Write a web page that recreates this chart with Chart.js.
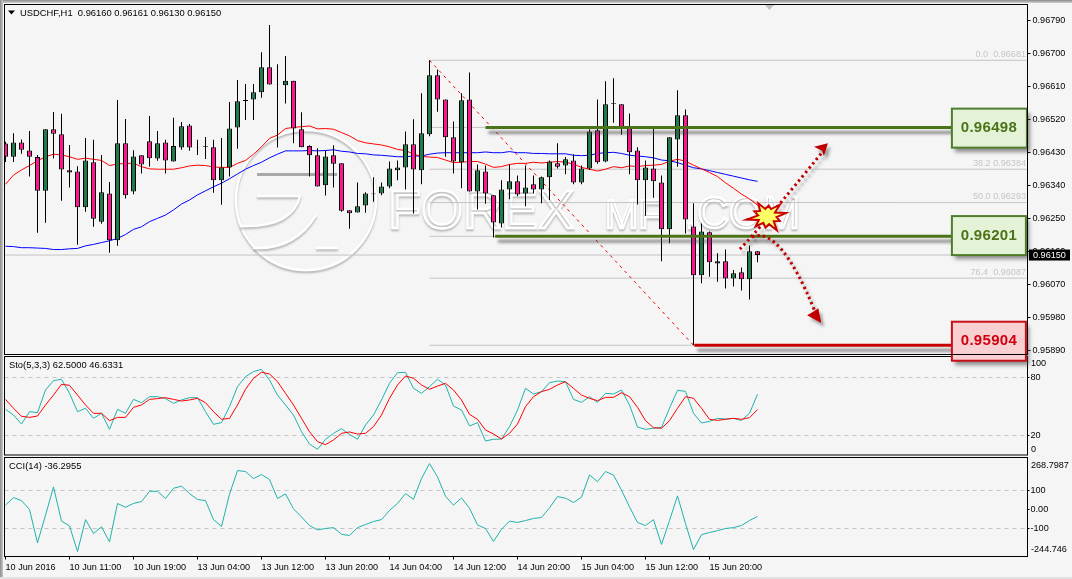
<!DOCTYPE html>
<html>
<head>
<meta charset="utf-8">
<title>USDCHF H1</title>
<script src="https://cdn.jsdelivr.net/npm/chart.js@4"></script>
<style>
  html, body { margin: 0; padding: 0; background: #f5f5f5; overflow: hidden; }
  #wrap { position: relative; width: 1072px; height: 579px; }
  #wrap canvas { position: absolute; left: 0; top: 0; }
  #topEdge { position: absolute; left: 0; top: 0; width: 1072px; height: 3px; background: linear-gradient(#8a8a8a, #d0d0d0); }
  #leftEdge { position: absolute; left: 0; top: 0; width: 3px; height: 579px; background: linear-gradient(90deg, #8c8c8c, #c8c8c8); }
  #bottomEdge { position: absolute; left: 0; top: 577px; width: 1072px; height: 2px; background: #e2e2e2; }
</style>
</head>
<body>
<div id="wrap">
  <canvas id="cci" width="1072" height="579" style="z-index:1"></canvas>
  <canvas id="sto" width="1072" height="579" style="z-index:2"></canvas>
  <canvas id="main" width="1072" height="579" style="z-index:3"></canvas>
  <div id="topEdge" style="z-index:4"></div>
  <div id="leftEdge" style="z-index:4"></div>
  <div id="bottomEdge" style="z-index:4"></div>
</div>
<script>
// prices are in points (0.96150 = 96150)
const opens = [96454,96418,96457,96435,96417,96325,96493,96479,96381,96378,96280,96403,96241,96318,96190,96455,96323,96422,96460,96413,96457,96405,96443,96503,96444,96447,96444,96354,96389,96498,96570,96574,96594,96662,96615,96613,96625,96493,96447,96422,96340,96422,96400,96272,96266,96285,96318,96318,96337,96381,96389,96452,96381,96479,96640,96574,96471,96403,96574,96323,96378,96313,96236,96329,96351,96318,96343,96329,96362,96400,96394,96408,96348,96386,96490,96405,96562,96561,96498,96435,96354,96386,96348,96220,96465,96531,96228,96095,96212,96127,96133,96086,96103,96084,96160];
const highs = [96459,96482,96465,96488,96423,96493,96540,96535,96450,96392,96469,96464,96423,96349,96573,96521,96436,96422,96529,96488,96464,96524,96513,96507,96464,96472,96464,96469,96567,96627,96616,96616,96703,96777,96670,96693,96625,96539,96449,96441,96434,96449,96400,96272,96348,96321,96362,96348,96405,96408,96487,96520,96591,96681,96656,96574,96514,96591,96648,96397,96394,96313,96354,96397,96367,96394,96367,96364,96408,96455,96417,96425,96394,96493,96574,96624,96632,96561,96536,96444,96408,96498,96367,96471,96599,96547,96291,96236,96214,96155,96165,96109,96116,96176,96161];
const lows = [96404,96404,96426,96364,96211,96238,96413,96298,96334,96178,96268,96227,96235,96156,96175,96304,96316,96372,96391,96407,96372,96405,96437,96434,96423,96412,96320,96287,96364,96440,96518,96518,96579,96615,96443,96563,96455,96444,96364,96337,96312,96334,96268,96222,96266,96265,96295,96313,96332,96354,96329,96263,96343,96474,96541,96418,96372,96332,96323,96274,96290,96198,96225,96302,96310,96283,96318,96291,96300,96386,96370,96343,96343,96382,96399,96403,96511,96478,96370,96288,96257,96306,96133,96182,96391,96209,95904,96073,96091,96077,96059,96064,96053,96029,96130];
const closes = [96418,96457,96437,96418,96325,96493,96481,96383,96375,96280,96408,96249,96321,96190,96455,96313,96419,96397,96414,96455,96408,96447,96501,96443,96443,96445,96354,96389,96495,96569,96573,96594,96662,96615,96614,96625,96495,96444,96422,96337,96419,96399,96271,96264,96283,96318,96316,96337,96386,96389,96452,96383,96482,96640,96574,96471,96405,96572,96323,96381,96318,96239,96329,96351,96315,96334,96329,96362,96405,96391,96411,96348,96386,96487,96403,96561,96564,96498,96430,96354,96389,96351,96220,96471,96531,96247,96095,96214,96130,96133,96086,96100,96084,96160,96150];
const maRed = [96343,96368,96382,96394,96407,96418,96425,96423,96418,96411,96414,96411,96408,96394,96398,96400,96400,96391,96385,96384,96384,96384,96388,96393,96395,96394,96390,96389,96389,96400,96408,96425,96445,96468,96477,96495,96498,96500,96502,96494,96495,96493,96484,96475,96462,96456,96453,96450,96445,96438,96435,96425,96419,96417,96416,96409,96402,96403,96405,96405,96398,96389,96391,96397,96400,96400,96403,96401,96403,96405,96403,96398,96389,96384,96379,96384,96391,96388,96393,96391,96394,96395,96397,96406,96411,96406,96395,96385,96375,96364,96347,96332,96316,96303,96286];
const maBlue = [96174,96173,96170,96170,96169,96168,96165,96165,96167,96168,96175,96179,96184,96189,96195,96206,96220,96227,96241,96250,96259,96273,96289,96300,96314,96325,96336,96346,96358,96371,96384,96394,96403,96415,96425,96434,96434,96434,96435,96434,96435,96437,96433,96431,96427,96426,96423,96422,96420,96418,96418,96420,96420,96425,96428,96429,96429,96429,96429,96429,96431,96429,96429,96432,96429,96429,96427,96427,96426,96426,96426,96422,96421,96422,96427,96429,96430,96427,96422,96420,96418,96415,96409,96407,96402,96395,96388,96385,96380,96375,96370,96365,96360,96355,96351];
const stoMain = [46.9,41.0,31.7,44.5,43.5,66.9,76.6,78.0,63.5,44.5,48.0,37.6,42.8,26.2,46.9,42.8,57.2,53.8,60.0,60.0,58.0,53.1,56.6,59.0,59.0,44.5,31.4,33.1,49.7,70.4,80.7,85.9,88.3,77.2,61.7,51.4,41.0,23.8,11.0,5.5,15.9,22.1,26.9,21.0,15.9,30.7,41.0,56.6,73.8,84.8,85.2,68.6,63.5,70.4,78.0,72.1,50.3,46.2,29.7,33.1,14.2,15.9,16.2,29.0,46.2,68.6,62.8,65.2,74.5,76.2,75.5,57.2,54.1,60.0,54.1,63.5,62.8,66.9,51.4,28.6,26.2,27.3,28.3,48.0,66.6,65.5,42.8,32.8,34.5,37.6,36.9,37.6,35.5,42.8,62.5];
const stoSignal = [57.2,48.0,39.7,38.6,40.0,51.4,61.7,72.8,71.7,61.7,51.4,42.8,42.8,35.2,38.6,38.6,49.0,51.4,57.2,58.0,59.0,57.2,55.5,56.6,58.3,53.8,44.5,36.6,37.6,51.4,67.6,79.0,85.2,83.5,75.5,63.5,51.4,37.6,23.8,13.5,10.4,15.2,22.1,23.5,21.4,22.1,29.0,41.0,58.3,72.1,81.4,79.0,72.1,67.6,71.0,73.8,66.9,56.6,41.7,36.6,25.5,21.4,16.2,22.1,31.7,49.7,60.0,65.2,67.6,72.1,75.5,68.6,61.7,58.3,55.9,59.3,59.3,64.1,60.0,49.0,35.2,27.9,27.3,35.2,48.0,60.0,58.3,48.0,36.6,35.5,36.6,37.6,36.6,38.3,46.6];
const cciValues = [23,63,47,0,-175,-30,119,-61,-86,-221,-53,-126,-91,-170,32,12,32,42,96,96,58,112,123,84,53,47,-53,-89,81,205,200,163,184,158,58,82,4,-39,-84,-107,-100,-95,-130,-137,-95,-79,-63,-53,-5,32,84,54,163,242,172,70,23,61,7,-81,-100,-168,-104,-61,-68,-58,-47,-42,9,68,60,37,65,182,147,200,181,102,14,-68,-84,-53,-184,-58,72,-74,-211,-132,-121,-111,-100,-95,-84,-58,-36.3];

const timeTicks = [0,8,16,24,32,40,48,56,64,72,80,88];
const timeLabels = ["10 Jun 2016","10 Jun 11:00","10 Jun 19:00","13 Jun 04:00","13 Jun 12:00","13 Jun 20:00","14 Jun 04:00","14 Jun 12:00","14 Jun 20:00","15 Jun 04:00","15 Jun 12:00","15 Jun 20:00"];
const priceTicks = [96790,96700,96610,96520,96430,96340,96250,96160,96070,95980,95890];
const stoTicks = [20,80];
const cciTicks = [100,0,-100];

const lastPrice = 96150;
const fibPrices = [96681,96498,96384,96293,96201,96087,95904];
const fibLabels = ["0.0  0.96681","","38.2 0.96384","50.0 0.96293","","76.4  0.96087",""];
const fibStart = 53;
const levelPrices = [96498,96201,95904];
const levelStarts = [60,61.2,86.1];
const levelBoxCentres = [96496,96203,95915];

// arrows and the burst sit on the price chart as [candle, price]
const upArrow = [[91.8,96166],[94.6,96229],[102.3,96436]];
const upHead = [[102.8,96455],[101.06,96445],[102.06,96434],[102.3,96420]];
const downArrow = [[93.3,96199],[96.8,96232],[101.2,95995]];
const downHead = [[101.97,95965],[101.6,96005],[100.9,95995],[100.2,95986]];
const burstCentre = [95.2,96256];

const UP = '#1f7a4c', DOWN = '#ff1493', TEAL = '#20b2aa', DASH = '#c4c4c4';
const FONT = '"Liberation Sans", Arial, sans-serif';
const TEXT = '9.1px ' + FONT;
const XMIN = -0.125, XMAX = 127.75;

Chart.defaults.font.family = FONT;
Chart.defaults.font.size = 9.1;
Chart.defaults.color = '#000';

function xpy(chart, p) {
  return [chart.scales.x.getPixelForValue(p[0]), chart.scales.y.getPixelForValue(p[1])];
}

function series(values) { return values.map((v, i) => ({ x: i, y: v })); }

function xScale(showLabels) {
  return {
    type: 'linear', min: XMIN, max: XMAX, display: showLabels, offset: false,
    grid: { drawOnChartArea: false, tickLength: 3, color: '#000', offset: false },
    border: { display: false },
    afterBuildTicks: s => { s.ticks = timeTicks.map(v => ({ value: v })); },
    afterFit: s => {
      s.height = showLabels ? 22.5 : 0;
      s.paddingLeft = 0; s.paddingRight = 0;
    },
    ticks: {
      autoSkip: false, maxRotation: 0, align: 'start', padding: 3,
      callback: v => timeLabels[timeTicks.indexOf(v)]
    }
  };
}

function yScale(min, max, tickVals, fmt, tickLen, pad, dashed) {
  return {
    type: 'linear', position: 'right', min: min, max: max,
    border: { display: false, dash: dashed ? [4, 4] : [] },
    grid: {
      drawOnChartArea: dashed,
      color: c => (c.tick && c.tick.value === 0) ? 'rgba(0,0,0,0)' : DASH,
      tickColor: '#000', tickLength: tickLen, tickBorderDash: [1, 0]
    },
    afterBuildTicks: s => { s.ticks = tickVals.map(v => ({ value: v })); },
    afterFit: s => {
      s.width = 44.5;
      s.paddingTop = 0; s.paddingBottom = 0;
    },
    ticks: { autoSkip: false, padding: pad, callback: fmt }
  };
}

// frame, panel title and the two inset labels MT4 puts at the panel edges
function panelPlugin(title, titleX, edges) {
  return {
    id: 'panel',
    afterDraw(chart) {
      const a = chart.chartArea, ctx = chart.ctx;
      ctx.save();
      ctx.strokeStyle = '#000';
      ctx.lineWidth = 1;
      ctx.strokeRect(a.left, a.top, a.right - a.left, a.bottom - a.top);
      ctx.fillStyle = '#000';
      ctx.font = '9.4px ' + FONT;
      ctx.textBaseline = 'middle';
      ctx.fillText(title, titleX, a.top + 8.5);
      ctx.font = TEXT;
      edges.forEach(e => ctx.fillText(e[0], a.right + 3.5, a.top + e[1]));
      ctx.restore();
    }
  };
}

function drawWatermark(ctx) {
  ctx.save();
  ctx.strokeStyle = '#ffffff';
  ctx.shadowColor = 'rgba(120,120,120,0.5)';
  ctx.shadowOffsetX = 0;
  ctx.shadowOffsetY = 2;
  ctx.shadowBlur = 2;
  ctx.lineWidth = 2.5;
  ctx.beginPath(); ctx.arc(306, 200, 70, 0, Math.PI * 2); ctx.stroke();
  ctx.beginPath(); ctx.moveTo(257, 196); ctx.lineTo(300, 196);
  ctx.quadraticCurveTo(292, 228, 240, 226); ctx.stroke();
  ctx.beginPath(); ctx.moveTo(316, 215); ctx.quadraticCurveTo(295, 250, 253, 248); ctx.stroke();
  ctx.beginPath(); ctx.moveTo(316, 248); ctx.lineTo(338, 248); ctx.stroke();
  ctx.strokeStyle = 'rgba(150,150,150,0.8)';
  ctx.lineWidth = 3;
  ctx.shadowColor = 'transparent';
  ctx.beginPath(); ctx.moveTo(257, 174.5); ctx.lineTo(337, 174.5); ctx.stroke();
  ctx.strokeStyle = '#ffffff';
  ctx.lineWidth = 2.4;
  ctx.shadowColor = 'rgba(120,120,120,0.5)';
  ctx.textBaseline = 'alphabetic';
  ctx.font = '54px ' + FONT;
  ctx.strokeText('FOREX', 388, 228);
  ctx.font = '40px ' + FONT;
  ctx.strokeText('MF', 605, 228);
  ctx.font = '44px ' + FONT;
  ctx.strokeText('.COM', 685, 228);
  ctx.restore();
}

function withShadow(ctx, blur, dx, dy, colour) {
  ctx.shadowColor = colour || 'rgba(70,70,70,0.6)';
  ctx.shadowBlur = blur;
  ctx.shadowOffsetX = dx;
  ctx.shadowOffsetY = dy;
}

const overlayPlugin = {
  id: 'overlay',
  beforeDatasetsDraw(chart) { drawWatermark(chart.ctx); },
  afterDraw(chart) {
    const ctx = chart.ctx, a = chart.chartArea, sx = chart.scales.x, sy = chart.scales.y;
    ctx.save();

    // fib labels
    ctx.fillStyle = '#c6c6c6';
    ctx.font = TEXT;
    ctx.textAlign = 'right';
    ctx.textBaseline = 'middle';
    fibPrices.forEach((p, i) => {
      if (fibLabels[i]) ctx.fillText(fibLabels[i], a.right - 1.5, sy.getPixelForValue(p) - 6);
    });
    ctx.textAlign = 'left';

    // support / resistance levels
    const boxLeft = sx.getPixelForValue(118.3);
    levelPrices.forEach((p, i) => {
      const y = sy.getPixelForValue(p);
      ctx.save();
      withShadow(ctx, 3, 3, 5);
      ctx.strokeStyle = i === 2 ? '#c80000' : '#4b7318';
      ctx.lineWidth = 3;
      ctx.beginPath();
      ctx.moveTo(sx.getPixelForValue(levelStarts[i]), y);
      ctx.lineTo(boxLeft, y);
      ctx.stroke();
      ctx.restore();
    });

    // arrows
    [[upArrow, upHead], [downArrow, downHead]].forEach(ar => {
      const pts = ar[0].map(p => xpy(chart, p));
      ctx.save();
      withShadow(ctx, 3, 3, 4, 'rgba(90,90,90,0.5)');
      ctx.strokeStyle = '#c00000';
      ctx.lineWidth = 3;
      ctx.setLineDash([2.4, 3.2]);
      ctx.beginPath();
      ctx.moveTo(pts[0][0], pts[0][1]);
      ctx.quadraticCurveTo(pts[1][0], pts[1][1], pts[2][0], pts[2][1]);
      ctx.stroke();
      ctx.setLineDash([]);
      ctx.fillStyle = '#c00000';
      ctx.beginPath();
      ar[1].forEach((p, i) => {
        const q = xpy(chart, p);
        if (i) ctx.lineTo(q[0], q[1]); else ctx.moveTo(q[0], q[1]);
      });
      ctx.closePath();
      ctx.fill();
      ctx.restore();
    });

    // burst
    const c = xpy(chart, burstCentre);
    const spikes = [19, 9.5, 14, 9, 20, 10, 14, 9, 17, 9.5, 21, 9, 14, 9.5, 18, 9, 13, 9.5, 19, 9];
    ctx.fillStyle = '#ffff66';
    ctx.strokeStyle = '#c80000';
    ctx.lineWidth = 2;
    ctx.lineJoin = 'miter';
    ctx.beginPath();
    spikes.forEach((r, i) => {
      const t = i / spikes.length * Math.PI * 2 - 0.2;
      const px = c[0] + Math.cos(t) * r, py = c[1] + Math.sin(t) * r * 0.82;
      if (i) ctx.lineTo(px, py); else ctx.moveTo(px, py);
    });
    ctx.closePath();
    ctx.fill();
    ctx.stroke();

    // price boxes
    levelPrices.forEach((p, i) => {
      const red = i === 2;
      const yc = sy.getPixelForValue(levelBoxCentres[i]);
      const boxW = i === 0 ? 75 : 74;
      ctx.save();
      withShadow(ctx, 4, 3, 4);
      ctx.fillStyle = red ? '#f9d0d1' : '#e4f3d8';
      ctx.fillRect(boxLeft, yc - 19.5, boxW, 39);
      ctx.restore();
      ctx.strokeStyle = red ? '#c8101a' : '#4f7d2c';
      ctx.lineWidth = 2;
      ctx.strokeRect(boxLeft, yc - 19.5, boxW, 39);
      ctx.fillStyle = red ? '#d0000f' : '#4b7318';
      ctx.font = 'bold 15px ' + FONT;
      ctx.textAlign = 'center';
      ctx.textBaseline = 'middle';
      ctx.letterSpacing = '0.3px';
      ctx.fillText((p / 100000).toFixed(5), boxLeft + 37, yc);
      ctx.letterSpacing = '0px';
      ctx.textAlign = 'left';
    });

    // current price tag
    const yb = sy.getPixelForValue(lastPrice);
    ctx.fillStyle = '#000';
    ctx.fillRect(a.right + 1.5, yb - 5.5, 41, 11);
    ctx.fillStyle = '#fff';
    ctx.font = TEXT;
    ctx.textBaseline = 'middle';
    ctx.fillText((lastPrice / 100000).toFixed(5), a.right + 5.5, yb + 0.5);

    // chart menu triangle and shift marker
    ctx.fillStyle = '#000';
    ctx.beginPath();
    ctx.moveTo(8, 10.5); ctx.lineTo(15, 10.5); ctx.lineTo(11.5, 14.5);
    ctx.closePath();
    ctx.fill();
    ctx.fillStyle = '#c0c0c0';
    ctx.beginPath();
    ctx.moveTo(765, 5); ctx.lineTo(774, 5); ctx.lineTo(769.5, 10);
    ctx.closePath();
    ctx.fill();
    ctx.restore();
  }
};

const isUp = opens.map((o, i) => closes[i] >= o);
const mainDatasets = [
  { type: 'bar', label: 'Body', data: opens.map((o, i) => ({ x: i, y: [o, closes[i]] })), order: 0,
    barThickness: 5, borderWidth: 1, borderColor: '#000', borderSkipped: false, inflateAmount: 0,
    backgroundColor: isUp.map(u => u ? UP : DOWN) },
  { type: 'bar', label: 'Wick', data: lows.map((l, i) => ({ x: i, y: [l, highs[i]] })), order: 1,
    barThickness: 1, borderWidth: 0, inflateAmount: 0, backgroundColor: '#000' },
  { type: 'line', label: 'MA red', data: series(maRed), order: 2, borderColor: '#ff0000', borderWidth: 1, pointRadius: 0, tension: 0 },
  { type: 'line', label: 'MA blue', data: series(maBlue), order: 3, borderColor: '#0000ff', borderWidth: 1, pointRadius: 0, tension: 0 },
  { type: 'line', label: 'Fib trend', data: [{ x: fibStart, y: fibPrices[0] }, { x: 86, y: fibPrices[6] }], order: 4,
    borderColor: '#f00000', borderWidth: 1, borderDash: [3, 4], pointRadius: 0 },
  { type: 'line', label: 'Last', data: [{ x: XMIN, y: lastPrice }, { x: XMAX, y: lastPrice }], order: 5,
    borderColor: '#c4c4c4', borderWidth: 1, pointRadius: 0 }
].concat(fibPrices.map((p, i) => ({
  type: 'line', label: 'Fib ' + i, data: [{ x: fibStart, y: p }, { x: XMAX - 0.1, y: p }], order: 6,
  borderColor: '#c4c4c4', borderWidth: 1, pointRadius: 0
})));

const base = {
  responsive: false, animation: false, devicePixelRatio: 1,
  plugins: { legend: { display: false }, tooltip: { enabled: false } }
};

new Chart(document.getElementById('main'), {
  data: { datasets: mainDatasets },
  options: Object.assign({}, base, {
    layout: { padding: { left: 4.5, right: 0, top: 4.5, bottom: 224.5 } },
    datasets: { bar: { grouped: false } },
    scales: {
      x: xScale(false),
      y: yScale(95878.8, 96833.1, priceTicks, v => (v / 100000).toFixed(5), 3, 2, false)
    }
  }),
  plugins: [overlayPlugin, panelPlugin('USDCHF,H1  0.96160 0.96161 0.96130 0.96150', 20, [])]
});

new Chart(document.getElementById('sto'), {
  data: { datasets: [
    { type: 'line', label: 'Signal', data: series(stoSignal), order: 0, borderColor: '#ff0000', borderWidth: 1, pointRadius: 0, tension: 0 },
    { type: 'line', label: 'Main', data: series(stoMain), order: 1, borderColor: TEAL, borderWidth: 1, pointRadius: 0, tension: 0 }
  ] },
  options: Object.assign({}, base, {
    layout: { padding: { left: 4.5, right: 0, top: 356.5, bottom: 124 } },
    scales: {
      x: xScale(false),
      y: yScale(-0.33, 101.56, stoTicks, v => String(v), 2, 1, true)
    }
  }),
  plugins: [panelPlugin('Sto(5,3,3) 62.5000 46.6331', 9, [['100', 7], ['0', 92.5]])]
});

new Chart(document.getElementById('cci'), {
  data: { datasets: [
    { type: 'line', label: 'CCI', data: series(cciValues), borderColor: TEAL, borderWidth: 1, pointRadius: 0, tension: 0 }
  ] },
  options: Object.assign({}, base, {
    layout: { padding: { left: 4.5, right: 0, top: 457.5, bottom: 0 } },
    scales: {
      x: xScale(true),
      y: yScale(-247.1, 273.8, cciTicks, v => (v === 0 ? '0.00' : String(v)), 2, 1, true)
    }
  }),
  plugins: [panelPlugin('CCI(14) -36.2955', 9, [['268.7987', 8], ['-244.746', 92]])]
});
</script>
</body>
</html>
